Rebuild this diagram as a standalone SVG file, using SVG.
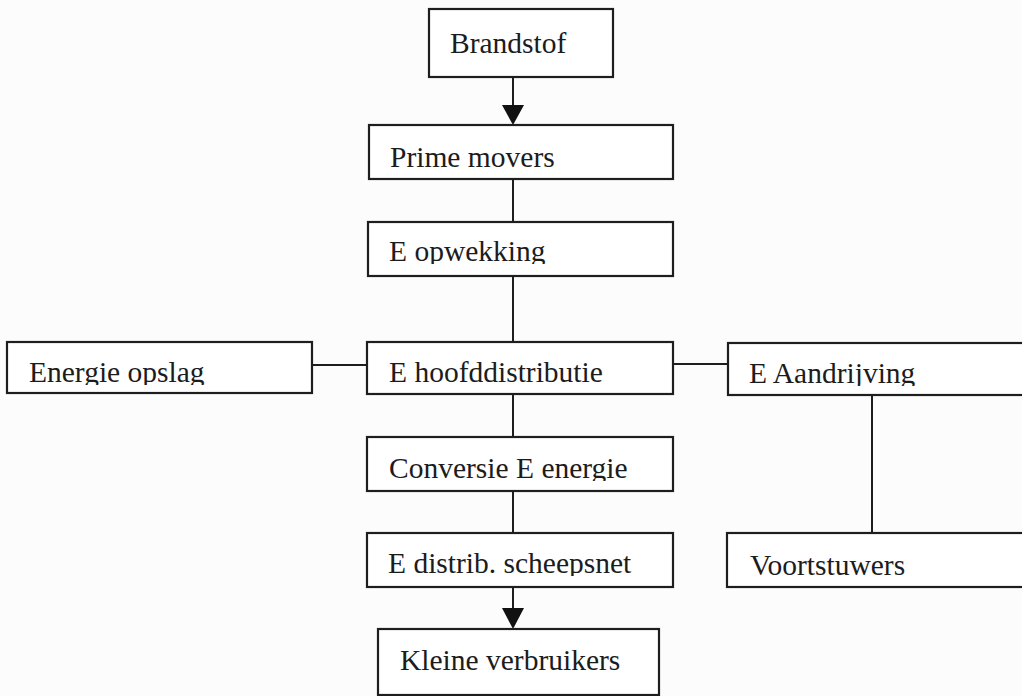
<svg xmlns="http://www.w3.org/2000/svg" width="1022" height="696" viewBox="0 0 1022 696">
  <style>
    .box { fill: #ffffff; stroke: #1e1e1e; stroke-width: 2.2; }
    .lbl { font-family: "Liberation Serif", "Times New Roman", serif; font-size: 29.5px; fill: #1c1c1c; }
    .wire { stroke: #1e1e1e; stroke-width: 2; fill: none; }
    .head { fill: #111111; }
  </style>
  <defs>
    <!-- label descenders are trimmed just below the baseline -->
    <clipPath id="cut-opwekking"><rect x="360" y="222" width="320" height="42"/></clipPath>
    <clipPath id="cut-opslag"><rect x="0" y="342" width="320" height="43"/></clipPath>
    <clipPath id="cut-aandrijving"><rect x="720" y="343" width="310" height="43"/></clipPath>
    <clipPath id="cut-conversie"><rect x="360" y="437" width="320" height="44"/></clipPath>
    <clipPath id="cut-scheepsnet"><rect x="360" y="533" width="320" height="43"/></clipPath>
  </defs>

  <rect x="0" y="0" width="1022" height="696" fill="#fcfcfc"/>

  <g id="connectors">
    <line class="wire" x1="513" y1="77" x2="513" y2="108"/>
    <polygon class="head" points="502,105 524,105 513,125"/>
    <line class="wire" x1="513" y1="179" x2="513" y2="222"/>
    <line class="wire" x1="513" y1="276" x2="513" y2="342"/>
    <line class="wire" x1="312" y1="365" x2="367" y2="365"/>
    <line class="wire" x1="673" y1="364" x2="728" y2="364"/>
    <line class="wire" x1="872" y1="395" x2="872" y2="533"/>
    <line class="wire" x1="513" y1="394" x2="513" y2="437"/>
    <line class="wire" x1="513" y1="491" x2="513" y2="533"/>
    <line class="wire" x1="513" y1="587" x2="513" y2="610"/>
    <polygon class="head" points="502,608 524,608 513,629"/>
  </g>

  <g id="brandstof">
    <rect class="box" x="429" y="9" width="184" height="68"/>
    <text class="lbl" x="450" y="53">Brandstof</text>
  </g>

  <g id="prime-movers">
    <rect class="box" x="369" y="125" width="304" height="54"/>
    <text class="lbl" x="390" y="167">Prime movers</text>
  </g>

  <g id="e-opwekking">
    <rect class="box" x="368" y="222" width="305" height="54"/>
    <text class="lbl" x="389" y="261" clip-path="url(#cut-opwekking)">E opwekking</text>
  </g>

  <g id="energie-opslag">
    <rect class="box" x="7" y="342" width="305" height="51"/>
    <text class="lbl" x="29" y="382" clip-path="url(#cut-opslag)">Energie opslag</text>
  </g>

  <g id="e-hoofddistributie">
    <rect class="box" x="367" y="342" width="306" height="52"/>
    <text class="lbl" x="389" y="382">E hoofddistributie</text>
  </g>

  <g id="e-aandrijving">
    <rect class="box" x="728" y="343" width="310" height="52"/>
    <text class="lbl" x="749" y="383" clip-path="url(#cut-aandrijving)">E Aandrijving</text>
  </g>

  <g id="conversie">
    <rect class="box" x="367" y="437" width="306" height="54"/>
    <text class="lbl" x="389" y="478" clip-path="url(#cut-conversie)">Conversie E energie</text>
  </g>

  <g id="e-distrib">
    <rect class="box" x="367" y="533" width="306" height="54"/>
    <text class="lbl" x="388" y="573" clip-path="url(#cut-scheepsnet)">E distrib. scheepsnet</text>
  </g>

  <g id="voortstuwers">
    <rect class="box" x="727" y="533" width="310" height="54"/>
    <text class="lbl" x="750" y="575">Voortstuwers</text>
  </g>

  <g id="kleine-verbruikers">
    <rect class="box" x="378" y="629" width="281" height="66"/>
    <text class="lbl" x="400" y="670">Kleine verbruikers</text>
  </g>
</svg>
